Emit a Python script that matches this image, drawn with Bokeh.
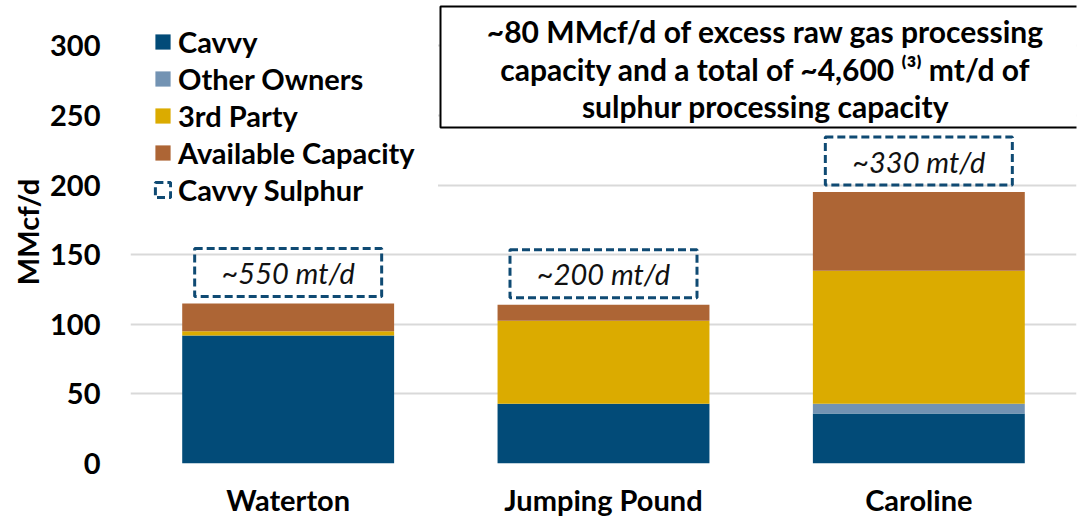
from bokeh.plotting import figure
from bokeh.models import FactorRange, Legend, LegendItem, ColumnDataSource
from bokeh.core.properties import value
from bokeh.embed import file_html
from bokeh.resources import INLINE

# ---------------- data ----------------
plants = ["Waterton", "Jumping Pound", "Caroline"]
cavvy = [92, 43, 36]
other_owners = [0, 0, 7]
third_party = [3, 59.5, 95.5]
available = [20, 11.5, 56.5]
sulphur_labels = ["~550 mt/d", "~200 mt/d", "~330 mt/d"]
y_ticks = [0, 50, 100, 150, 200, 250, 300]
note_lines = [
    "~80 MMcf/d of excess raw gas processing",
    "capacity and a total of ~4,600 \u207d\u00b3\u207e mt/d of",
    "sulphur processing capacity",
]

series_names = ["Cavvy", "Other Owners", "3rd Party", "Available Capacity"]
colors = ["#024b78", "#7393b3", "#dbab00", "#ad6535"]
box_color = "#0f4a73"
FONT = value("Lato")
FS = "29px"

# ---------------- layout ----------------
W, H = 1079, 520
LEFT, BOTTOM, RIGHT = 130, 57, 3
frame_h = H - BOTTOM
px_per_unit = 1.392
y_top = frame_h / px_per_unit
cat_px = (W - LEFT - RIGHT) / len(plants)


def ydata(canvas_y):
    return (frame_h - canvas_y) / px_per_unit


def xdata(canvas_x):
    return (canvas_x - LEFT) / cat_px


src = ColumnDataSource(dict(
    plant=plants, cavvy=cavvy, other=other_owners, third=third_party, avail=available,
))
totals = [a + b + c + d for a, b, c, d in zip(cavvy, other_owners, third_party, available)]
box_h = 34.5
sul = ColumnDataSource(dict(
    plant=plants,
    ymid=[t + 5 + box_h / 2 for t in totals],
    label=sulphur_labels,
))

p = figure(
    x_range=FactorRange(*plants, range_padding=0),
    y_range=(0, y_top),
    width=W, height=H,
    output_backend="svg", toolbar_location=None,
    min_border_left=LEFT, min_border_right=RIGHT, min_border_top=0, min_border_bottom=BOTTOM,
)
p.outline_line_color = None
p.background_fill_color = "white"
p.border_fill_color = "white"

rs = p.vbar_stack(["cavvy", "other", "third", "avail"], x="plant", width=0.672,
                  color=colors, line_color=None, source=src)

sul_r = p.rect(x="plant", y="ymid", width=0.593, height=box_h, source=sul,
               fill_color=None, line_color=box_color, line_width=3, line_dash="8 4")
p.text(x="plant", y="ymid", text="label", source=sul, text_font=FONT,
       text_font_style="italic", text_font_size=FS, text_align="center",
       text_baseline="middle", text_color="#111111")

# note box (top right)
p.quad(left=[xdata(440)], right=[xdata(W + 40)], bottom=[ydata(127)], top=[ydata(6)],
       fill_color="white", line_color="black", line_width=2)
p.text(x=[xdata(765)] * 3, y=[ydata(30), ydata(68), ydata(105)], text=note_lines,
       text_font=FONT, text_font_style="bold", text_font_size="30px",
       text_align="center", text_baseline="middle", text_color="black")

# axes
p.xgrid.grid_line_color = None
p.ygrid.grid_line_color = "#d9d9d9"
p.ygrid.grid_line_width = 2
p.yaxis.ticker = y_ticks
for ax in (p.xaxis[0], p.yaxis[0]):
    ax.axis_line_color = None
    ax.major_tick_line_color = None
    ax.minor_tick_line_color = None
    ax.major_tick_out = 0
    ax.major_tick_in = 0
    ax.minor_tick_out = 0
    ax.minor_tick_in = 0
    ax.major_label_text_font = "Lato"
    ax.major_label_text_font_style = "bold"
    ax.major_label_text_font_size = FS
    ax.major_label_text_color = "black"
p.yaxis.major_label_standoff = 30
p.xaxis.major_label_standoff = 18
p.xaxis.major_label_text_line_height = 0.8
p.yaxis.axis_label = "MMcf/d"
p.yaxis.axis_label_text_font = "Lato"
p.yaxis.axis_label_text_font_style = "bold"
p.yaxis.axis_label_text_font_size = FS
p.yaxis.axis_label_text_color = "black"
p.yaxis.axis_label_standoff = 2

items = [LegendItem(label=n, renderers=[r]) for n, r in zip(series_names, rs)]
items.append(LegendItem(label="Cavvy Sulphur", renderers=[sul_r]))
legend = Legend(items=items, location="top_left", margin=0, padding=23,
                spacing=0, glyph_width=19, glyph_height=19, label_height=37,
                label_standoff=6, label_text_font="Lato", label_text_font_style="bold",
                label_text_font_size=FS, label_text_color="black",
                background_fill_color="white", background_fill_alpha=1,
                border_line_color="white", border_line_alpha=0)
p.add_layout(legend)

open("out.html", "w").write(file_html(p, INLINE))
